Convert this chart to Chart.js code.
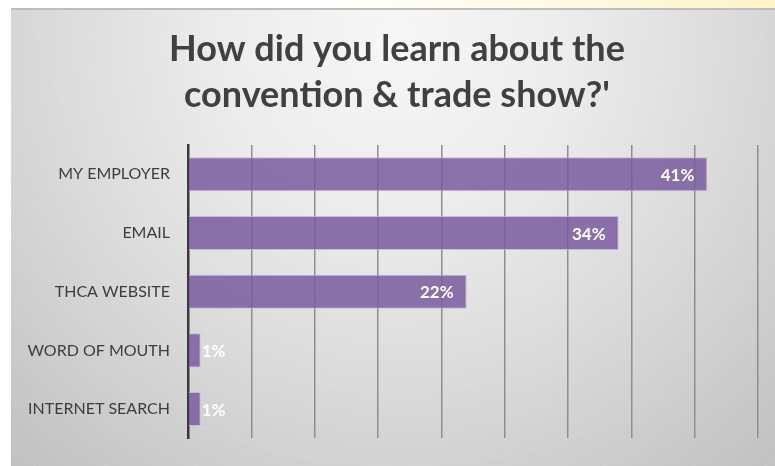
<!DOCTYPE html>
<html>
<head>
<meta charset="utf-8">
<script src="https://cdn.jsdelivr.net/npm/chart.js@4"></script>
<style>
  html, body { margin: 0; padding: 0; background: #fff; }
  #wrap { width: 775px; height: 466px; }
</style>
</head>
<body>
<div id="wrap"><canvas id="sourceChart" width="775" height="466"></canvas></div>
<script>
const categories = ["MY EMPLOYER", "EMAIL", "THCA WEBSITE", "WORD OF MOUTH", "INTERNET SEARCH"];
const percents = [41, 34, 22, 1, 1];
const titleLines = ["How did you learn about the", "convention & trade show?'"];

const FONT = "Lato, 'Open Sans', sans-serif";

// slide-style backdrop: white page, pale yellow strip, grey radial panel
const backdrop = {
  id: "backdrop",
  beforeDraw(chart) {
    const ctx = chart.ctx;
    const w = chart.width, h = chart.height;
    ctx.save();
    ctx.fillStyle = "#ffffff";
    ctx.fillRect(0, 0, w, h);

    const strip = ctx.createLinearGradient(300, 0, w, 0);
    strip.addColorStop(0, "rgba(253,246,210,0)");
    strip.addColorStop(1, "rgba(253,244,200,1)");
    ctx.fillStyle = strip;
    ctx.fillRect(0, 0, w, 9);

    const px = 11, py = 8;
    const g = ctx.createRadialGradient(395, 40, 10, 395, 40, 560);
    g.addColorStop(0, "#f6f6f6");
    g.addColorStop(0.3, "#ececec");
    g.addColorStop(0.65, "#d8d8d8");
    g.addColorStop(1, "#c2c2c2");
    ctx.fillStyle = g;
    ctx.fillRect(px, py, w - px, h - py);

    // faint ripple arcs
    ctx.strokeStyle = "rgba(255,255,255,0.09)";
    ctx.lineWidth = 1.2;
    for (let r = 260; r < 700; r += 38) {
      ctx.beginPath();
      ctx.arc(400, -60, r, 0, Math.PI);
      ctx.stroke();
    }

    ctx.fillStyle = "#bdbdbd";
    ctx.fillRect(px, py, w - px, 2);
    ctx.restore();
  }
};

// two-line heading above the plot
const heading = {
  id: "heading",
  afterDraw(chart) {
    const ctx = chart.ctx;
    ctx.save();
    ctx.font = "bold 36px " + FONT;
    ctx.fillStyle = "#404040";
    ctx.textAlign = "center";
    ctx.textBaseline = "alphabetic";
    ctx.fillText(titleLines[0], 397, 61);
    ctx.fillText(titleLines[1], 397, 107);
    ctx.restore();
  }
};

// percentage text at the end of each bar
const barLabels = {
  id: "barLabels",
  afterDatasetsDraw(chart) {
    const ctx = chart.ctx;
    const meta = chart.getDatasetMeta(0);
    ctx.save();
    ctx.font = "bold 17px " + FONT;
    ctx.fillStyle = "#ffffff";
    ctx.textBaseline = "middle";
    meta.data.forEach((bar, i) => {
      const txt = percents[i] + "%";
      const tw = ctx.measureText(txt).width;
      const len = bar.x - bar.base;
      if (tw + 16 > len) {
        ctx.textAlign = "left";
        ctx.fillText(txt, bar.x + 1, bar.y + 1);
      } else {
        ctx.textAlign = "right";
        ctx.fillText(txt, bar.x - 13, bar.y + 1);
      }
    });
    ctx.restore();
  }
};

new Chart(document.getElementById("sourceChart"), {
  type: "bar",
  data: {
    labels: categories,
    datasets: [{
      data: percents,
      backgroundColor: "rgba(122,92,157,0.85)",
      borderColor: "rgba(196,178,222,0.9)",
      borderWidth: 1,
      borderSkipped: "left",
      barPercentage: 0.58,
      categoryPercentage: 1
    }]
  },
  options: {
    indexAxis: "y",
    responsive: false,
    animation: false,
    layout: { padding: { left: 0, right: 17, top: 145, bottom: 20 } },
    plugins: {
      legend: { display: false },
      tooltip: { enabled: false },
      title: { display: false }
    },
    scales: {
      x: {
        min: 0,
        max: 45,
        ticks: { display: false, stepSize: 5 },
        grid: { color: "#8e8e8e", lineWidth: 1.5, drawTicks: false },
        border: { display: false }
      },
      y: {
        ticks: { color: "#3d3d3d", font: { family: FONT, size: 16 }, padding: 18 },
        grid: { display: false, drawTicks: false },
        border: { display: true, color: "#3a3a3a", width: 2.5 },
        afterFit(scale) { scale.width = 188; }
      }
    }
  },
  plugins: [backdrop, heading, barLabels]
});
</script>
</body>
</html>
